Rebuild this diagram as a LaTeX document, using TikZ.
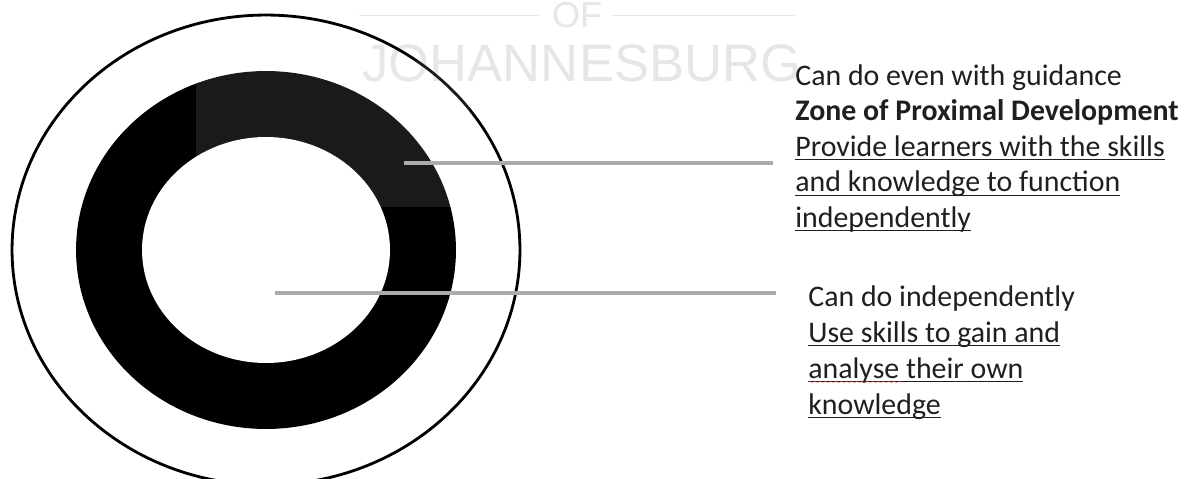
\documentclass[tikz,border=0pt]{standalone}
\usepackage{fontspec}
\setmainfont{Carlito}
\newfontfamily\wmfont{Liberation Sans}
\usetikzlibrary{positioning, calc, decorations.pathmorphing}

\definecolor{leadgray}{HTML}{ABABAB}
\definecolor{wmgray}{HTML}{E6E6E6}

% underline at a fixed depth (runs through descenders)
\newcommand\ulin[1]{\setbox0=\hbox{#1}\rlap{\rule[-2.4pt]{\wd0}{0.6pt}}\box0}

\tikzset{
  leader/.style={draw=leadgray, line width=2pt},
  wmrule/.style={draw=wmgray, line width=0.9pt},
  zonetext/.style={anchor=north west, inner sep=0pt, align=left,
                   font=\fontsize{17}{20.2}\selectfont, text=black!88},
}

\begin{document}
\begin{tikzpicture}[x=0.02cm, y=-0.02cm]
\useasboundingbox (0,0) rectangle (1189,479);
\clip (0,0) rectangle (1189,479);

% ── Watermark ────────────────────────────────────────────────────
\node[font=\wmfont\fontsize{30}{30}\selectfont, text=wmgray, anchor=base west,
      inner sep=0pt] (wmname) at (362,82) {JOHANNESBURG};
\node[font=\wmfont\fontsize{20.5}{20.5}\selectfont, text=wmgray, anchor=base,
      inner sep=0pt] (wmof) at (577,28) {OF};
\draw[wmrule] ([xshift=-0.26cm]wmof.west) -- ++(-180,0);
\draw[wmrule] ([xshift=0.2cm]wmof.east) -- ++(183,0);

% ── Circles ──────────────────────────────────────────────────────
\coordinate (ctr) at (266,250);
\draw[line width=1.6pt] (ctr) ellipse [x radius=5.08cm, y radius=4.70cm];
\fill[black] (ctr) ellipse [x radius=3.80cm, y radius=3.58cm];
\fill[white] (ctr) ellipse [x radius=2.48cm, y radius=2.26cm];
\fill[white, fill opacity=0.1] (196,60) rectangle (470,207);

% ── Labels ───────────────────────────────────────────────────────
\coordinate (zpdpt) at (404,163);
\coordinate (indpt) at (275,293);

\node[zonetext] (zpd) at (795,64)
    {Can do even with guidance\\
     \textbf{Zone of Proximal Development}\\
     \ulin{Provide learners with the skills}\\
     \ulin{and knowledge to function}\\
     \ulin{independently}};

\node[zonetext, font=\fontsize{17}{20.5}\selectfont] (indep) at (808,285)
    {Can do independently\\
     \ulin{Use skills to gain and}\\
     \ulin{analyse their own}\\
     \ulin{knowledge}};

\draw[leader] (zpdpt) -- ([xshift=-0.44cm]zpdpt -| zpd.west);
\draw[leader] (indpt) -- ([xshift=-0.64cm]indpt -| indep.west);

% spell-check mark
\draw[red!70, opacity=0.45, decorate,
      decoration={snake, amplitude=0.5pt, segment length=3pt}] (808,382) -- (903,382);

\end{tikzpicture}
\end{document}
